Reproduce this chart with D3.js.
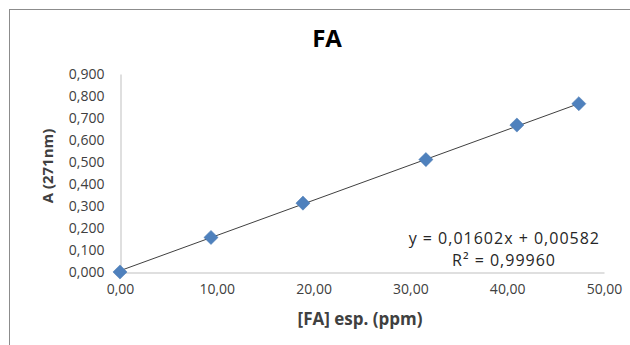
<!DOCTYPE html>
<html lang="es">
<head>
    <meta charset="UTF-8">
    <title>FA</title>
    <style>
        * { margin: 0; padding: 0; }
        html, body { overflow: hidden; background: #fff; }
    </style>
</head>
<body>
    <div id="chart"></div>
    <script src="https://cdn.jsdelivr.net/npm/d3@7/dist/d3.min.js"></script>
    <script>
        // datos
        const concentration = [0, 9.4, 18.9, 31.6, 41.0, 47.4]
        const absorbance = [0.000, 0.157, 0.313, 0.511, 0.668, 0.765]
        const slope = 0.01602
        const intercept = 0.00582
        const xTicks = [0, 10, 20, 30, 40, 50]
        const yTicks = [0, 0.1, 0.2, 0.3, 0.4, 0.5, 0.6, 0.7, 0.8, 0.9]
        const equationLines = ['y = 0,01602x + 0,00582', 'R² = 0,99960']

        function drawChart() {
            const width = 630
            const height = 345
            const font = 'Open Sans, Liberation Sans, sans-serif'

            const svg = d3.select('#chart')
                .append('svg')
                .attr('width', width)
                .attr('height', height)
                .style('font-family', font)

            // marco del gráfico
            svg.append('rect')
                .attr('x', 9.5)
                .attr('y', 9.5)
                .attr('width', 700)
                .attr('height', 400)
                .attr('fill', '#fff')
                .attr('stroke', '#8c8c8c')

            const x = d3.scaleLinear().domain([0, 50]).range([120, 604])
            const y = d3.scaleLinear().domain([0, 0.9]).range([272, 74])

            const comma = d => d3.format('.3f')(d).replace('.', ',')
            const commaX = d => d3.format('.2f')(d).replace('.', ',')

            const xAxis = svg.append('g')
                .attr('transform', `translate(0, ${y(0) + 0.5})`)
                .call(d3.axisBottom(x).tickValues(xTicks).tickFormat(commaX).tickSize(0).tickPadding(12))
            const yAxis = svg.append('g')
                .attr('transform', `translate(${x(0) + 0.5}, 0)`)
                .call(d3.axisLeft(y).tickValues(yTicks).tickFormat(comma).tickSize(0).tickPadding(16))

            ;[xAxis, yAxis].forEach(a => {
                a.select('.domain').attr('stroke', '#bfbfbf').attr('stroke-width', 1)
                a.selectAll('text')
                    .attr('fill', '#404040')
                    .style('font-size', '14px')
                    .style('font-family', font)
            })

            // línea de tendencia
            const xEnd = d3.max(concentration)
            svg.append('line')
                .attr('x1', x(0))
                .attr('y1', y(intercept))
                .attr('x2', x(xEnd))
                .attr('y2', y(slope * xEnd + intercept))
                .attr('stroke', '#404040')
                .attr('stroke-width', 1)

            // puntos
            svg.append('g')
                .selectAll('path')
                .data(concentration)
                .join('path')
                .attr('d', d3.symbol(d3.symbolSquare, 100))
                .attr('transform', (d, i) => `translate(${x(d)}, ${y(absorbance[i])}) rotate(45)`)
                .attr('fill', '#4f81bd')
                .attr('stroke', '#4a7ab3')
                .attr('stroke-width', 0.5)

            // ecuación
            svg.append('g')
                .selectAll('text')
                .data(equationLines)
                .join('text')
                .attr('x', (d, i) => i === 0 ? 600 : 556)
                .attr('y', (d, i) => 244 + i * 22)
                .attr('text-anchor', 'end')
                .attr('fill', '#262626')
                .style('font-size', '16px')
                .style('letter-spacing', '1px')
                .text(d => d)

            // títulos
            svg.append('text')
                .attr('x', 327)
                .attr('y', 47)
                .attr('text-anchor', 'middle')
                .style('font-size', '24px')
                .style('font-weight', 'bold')
                .text('FA')

            svg.append('text')
                .attr('x', 360)
                .attr('y', 325)
                .attr('text-anchor', 'middle')
                .attr('fill', '#404040')
                .style('font-size', '17px')
                .style('font-weight', 'bold')
                .text('[FA] esp. (ppm)')

            svg.append('text')
                .attr('transform', 'translate(53, 166) rotate(-90)')
                .attr('text-anchor', 'middle')
                .attr('fill', '#404040')
                .style('font-size', '15px')
                .style('font-weight', 'bold')
                .text('A (271nm)')
        }

        drawChart()
    </script>
</body>
</html>
